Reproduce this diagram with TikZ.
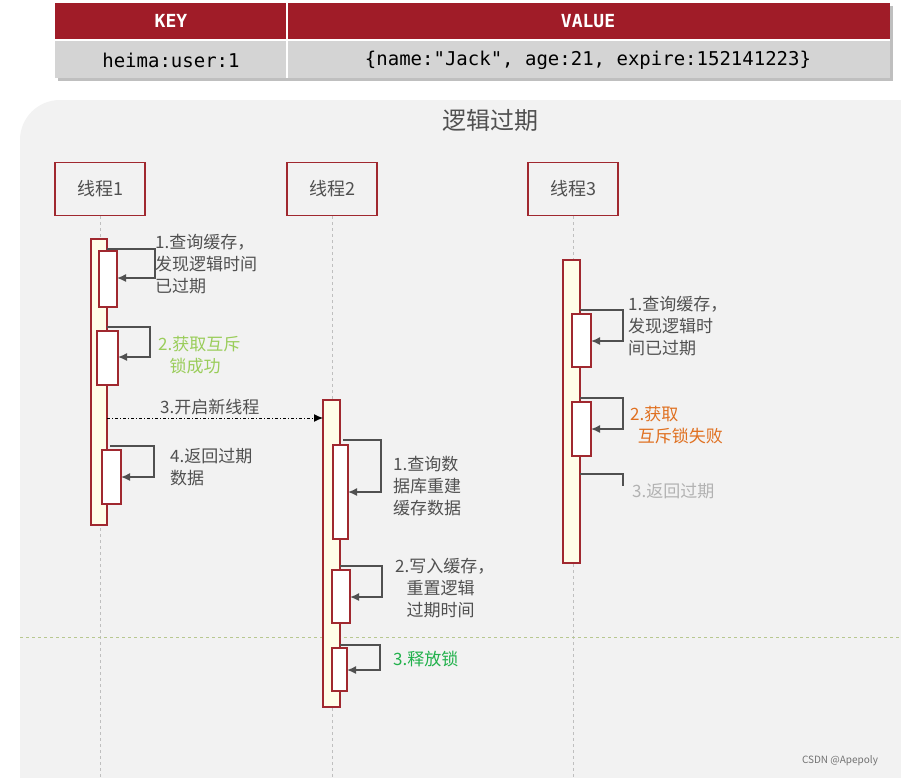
\documentclass[tikz,border=0pt]{standalone}
\usepackage{fontspec}
\setmainfont{Noto Sans CJK SC}
\setmonofont{DejaVu Sans Mono}
\newfontfamily\cjk{Noto Sans CJK SC}
\usetikzlibrary{arrows.meta,shadows}
\definecolor{hdred}{HTML}{A01C28}
\definecolor{boxred}{HTML}{A0282F}
\definecolor{rowgray}{HTML}{D4D4D4}
\definecolor{panel}{HTML}{F2F2F2}
\definecolor{barfill}{HTML}{FFFDE8}
\definecolor{arrgray}{HTML}{505050}
\definecolor{okgreen}{HTML}{9ACD5A}
\definecolor{relgreen}{HTML}{22B14C}
\definecolor{failorange}{HTML}{E07020}
\definecolor{splitline}{HTML}{B8C890}
\tikzset{
  thread/.style={draw=boxred, line width=1.2pt, fill=panel, minimum width=90pt, minimum height=53pt, font=\fontsize{18}{20}\selectfont\color{arrgray}},
  bar/.style={draw=boxred, line width=1.2pt, fill=barfill},
  act/.style={draw=boxred, line width=1.2pt, fill=white},
  self/.style={draw=arrgray, line width=1.5pt, -{Latex[length=9pt,width=8pt]}},
  lab/.style={anchor=north west, align=left, inner sep=0pt, font=\fontsize{17}{22}\selectfont\color{arrgray}},
  life/.style={draw=black!25, line width=1pt, dashed}
}
\begin{document}
\begin{tikzpicture}[x=1pt,y=-1pt]
  \useasboundingbox (0,0) rectangle (901,777);
  \fill[white] (0,0) rectangle (901,777);
  % Table
  \fill[black!30, drop shadow] (55,3) rectangle (890,78);
  \fill[hdred] (55,3) rectangle (890,40);
  \fill[rowgray] (55,40) rectangle (890,78);
  \draw[white, line width=2pt] (287,3) -- (287,78) (55,40) -- (890,40);
  \node[font=\bfseries\ttfamily\fontsize{18}{20}\selectfont, text=white] (key) at (171,21) {KEY};
  \node[font=\bfseries\ttfamily\fontsize{18}{20}\selectfont, text=white] (value) at (588,21) {VALUE};
  \node[font=\ttfamily\fontsize{19}{22}\selectfont] (kval) at (171,60) {heima:user:1};
  \node[font=\ttfamily\fontsize{19}{22}\selectfont] (vval) at (588,60) {\{name:"Jack", age:21, expire:152141223\}};
  % Panel
  \fill[panel, rounded corners=40pt] (20,100) rectangle (960,840);
  \node[font=\fontsize{24}{28}\selectfont\color{arrgray}] (title) at (490,120) {逻辑过期};
  % Nodes
  \node[thread] (t1) at (100,189) {线程1};
  \node[thread] (t2) at (332,189) {线程2};
  \node[thread] (t3) at (573,189) {线程3};
  \draw[life] (t1.south) -- (100,777);
  \draw[life] (t2.south) -- (332,777);
  \draw[life] (t3.south) -- (573,777);
  \draw[dashed, draw=splitline, line width=1pt] (20,637) -- (901,637);
  % Bars
  \draw[bar] (91,239) rectangle (107,525);
  \draw[act] (99,251) rectangle (117,307);
  \draw[act] (97,331) rectangle (118,385);
  \draw[act] (102,450) rectangle (121,504);
  \draw[bar] (323,400) rectangle (340,707);
  \draw[act] (333,445) rectangle (348,539);
  \draw[act] (332,570) rectangle (350,623);
  \draw[act] (332,648) rectangle (347,691);
  \draw[bar] (563,260) rectangle (580,563);
  \draw[act] (572,314) rectangle (591,367);
  \draw[act] (572,402) rectangle (591,456);
  % Arrows
  \draw[self] (107,249) -- (155,249) -- (155,278) -- (117,278);
  \draw[self] (107,327) -- (150,327) -- (150,357) -- (118,357);
  \draw[self] (110,446) -- (154,446) -- (154,477) -- (121,477);
  \draw[line width=1pt, dash dot, -{Latex[length=9pt,width=8pt]}] (107,418) -- (323,418);
  \draw[self] (343,440) -- (381,440) -- (381,492) -- (348,492);
  \draw[self] (340,566) -- (382,566) -- (382,597) -- (350,597);
  \draw[self] (340,645) -- (380,645) -- (380,670) -- (347,670);
  \draw[self] (580,310) -- (623,310) -- (623,341) -- (591,341);
  \draw[self] (580,398) -- (623,398) -- (623,429) -- (591,429);
  \draw[draw=arrgray, line width=1.5pt] (580,474) -- (623,474) -- (623,486);
  % Labels
  \node[lab] (l11) at (155,234) {1.查询缓存，\\发现逻辑时间\\已过期};
  \node[lab, text=okgreen] (l12) at (158,336) {2.获取互斥\\\ \ \ 锁成功};
  \node[lab, anchor=south west] (l13) at (160,415) {3.开启新线程};
  \node[lab] (l14) at (170,448) {4.返回过期\\数据};
  \node[lab] (l21) at (393,456) {1.查询数\\据库重建\\缓存数据};
  \node[lab] (l22) at (395,558) {2.写入缓存，\\\ \ \ 重置逻辑\\\ \ \ 过期时间};
  \node[lab, text=relgreen] (l23) at (393,651) {3.释放锁};
  \node[lab] (l31) at (628,296) {1.查询缓存，\\发现逻辑时\\间已过期};
  \node[lab, text=failorange] (l32) at (630,406) {2.获取\\\ \ 互斥锁失败};
  \node[lab, text=black!30] (l33) at (632,483) {3.返回过期};
  \node[font=\fontsize{10}{12}\selectfont, text=black!55] (mark) at (840,761) {CSDN @Apepoly};
\end{tikzpicture}
\end{document}
